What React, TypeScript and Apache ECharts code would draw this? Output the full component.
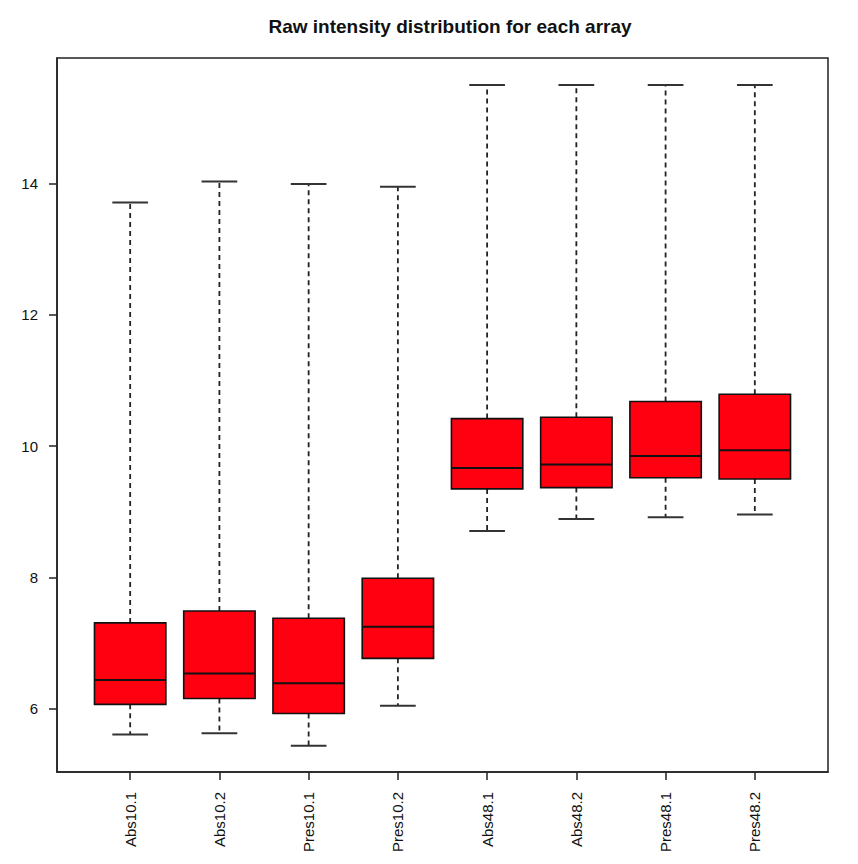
import React, { useEffect, useRef } from "react";
import * as echarts from "echarts";

// Boxplot statistics per array (log2 raw intensity)
const arrays = ["Abs10.1", "Abs10.2", "Pres10.1", "Pres10.2", "Abs48.1", "Abs48.2", "Pres48.1", "Pres48.2"];
const lowerWhisker = [5.61, 5.63, 5.44, 6.05, 8.71, 8.89, 8.92, 8.96];
const lowerHinge = [6.07, 6.16, 5.93, 6.77, 9.35, 9.37, 9.52, 9.50];
const medians = [6.44, 6.54, 6.39, 7.25, 9.67, 9.72, 9.85, 9.94];
const upperHinge = [7.31, 7.49, 7.38, 7.99, 10.42, 10.44, 10.68, 10.79];
const upperWhisker = [13.71, 14.03, 13.99, 13.95, 15.5, 15.5, 15.5, 15.5];
const yTicks = [6, 8, 10, 12, 14];

const FONT = "'Liberation Sans', Arial, Helvetica, sans-serif";

export default function App() {
  const ref = useRef<HTMLDivElement>(null);

  useEffect(() => {
    document.body.style.margin = "0";
    if (!ref.current) return;
    const chart = echarts.init(ref.current, null, { renderer: "svg" });

    const data = arrays.map((_, i) => [
      i + 1,
      lowerWhisker[i],
      lowerHinge[i],
      medians[i],
      upperHinge[i],
      upperWhisker[i],
    ]);

    const renderBox = (params: any, api: any) => {
      const x = api.value(0);
      const pLow = api.coord([x, api.value(1)]);
      const pQ1 = api.coord([x, api.value(2)]);
      const pMed = api.coord([x, api.value(3)]);
      const pQ3 = api.coord([x, api.value(4)]);
      const pHigh = api.coord([x, api.value(5)]);
      const boxW = api.size([0.8, 0])[0];
      const capW = api.size([0.4, 0])[0];
      const cx = pMed[0];
      const whiskerStyle = { stroke: "#222", lineWidth: 1.8, lineDash: [5, 4] };
      const solid = { stroke: "#333", lineWidth: 2 };
      return {
        type: "group",
        children: [
          { type: "line", shape: { x1: cx, y1: pQ3[1], x2: cx, y2: pHigh[1] }, style: whiskerStyle },
          { type: "line", shape: { x1: cx, y1: pQ1[1], x2: cx, y2: pLow[1] }, style: whiskerStyle },
          { type: "line", shape: { x1: cx - capW / 2, y1: pHigh[1], x2: cx + capW / 2, y2: pHigh[1] }, style: solid },
          { type: "line", shape: { x1: cx - capW / 2, y1: pLow[1], x2: cx + capW / 2, y2: pLow[1] }, style: solid },
          {
            type: "rect",
            shape: { x: cx - boxW / 2, y: pQ3[1], width: boxW, height: pQ1[1] - pQ3[1] },
            style: { fill: "#ff0010", stroke: "#111", lineWidth: 1.6 },
          },
          { type: "line", shape: { x1: cx - boxW / 2, y1: pMed[1], x2: cx + boxW / 2, y2: pMed[1] }, style: { stroke: "#111", lineWidth: 2 } },
        ],
      };
    };

    chart.setOption({
      animation: false,
      backgroundColor: "#ffffff",
      title: {
        text: "Raw intensity distribution for each array",
        left: 445,
        textAlign: "center",
        top: 12,
        textStyle: { fontFamily: FONT, fontSize: 19, fontWeight: "bold", color: "#111" },
      },
      grid: {
        left: 57,
        right: 30,
        top: 58,
        bottom: 92,
        show: true,
        borderColor: "#222",
        borderWidth: 1.5,
        backgroundColor: "transparent",
      },
      xAxis: {
        type: "value",
        min: 0.18,
        max: 8.82,
        splitLine: { show: false },
        axisLine: { show: true, lineStyle: { color: "#222", width: 1.5 } },
        axisTick: {
          show: true,
          length: 8,
          customValues: arrays.map((_, i) => i + 1),
          lineStyle: { color: "#222", width: 1.5 },
        },
        axisLabel: {
          customValues: arrays.map((_, i) => i + 1),
          formatter: (v: number) => arrays[Math.round(v) - 1] ?? "",
          rotate: 90,
          margin: 20,
          fontFamily: FONT,
          fontSize: 15,
          color: "#111",
        },
      },
      yAxis: {
        type: "value",
        min: 5.04,
        max: 15.91,
        splitLine: { show: false },
        axisLine: { show: true, lineStyle: { color: "#222", width: 1.5 } },
        axisTick: {
          show: true,
          length: 8,
          customValues: yTicks,
          lineStyle: { color: "#222", width: 1.5 },
        },
        axisLabel: {
          customValues: yTicks,
          margin: 19,
          fontFamily: FONT,
          fontSize: 15,
          color: "#111",
        },
      },
      series: [
        {
          type: "custom",
          renderItem: renderBox,
          encode: { x: 0, y: [1, 2, 3, 4, 5] },
          data,
        },
      ],
    });

    return () => chart.dispose();
  }, []);

  return <div ref={ref} style={{ width: 858, height: 864 }} />;
}
